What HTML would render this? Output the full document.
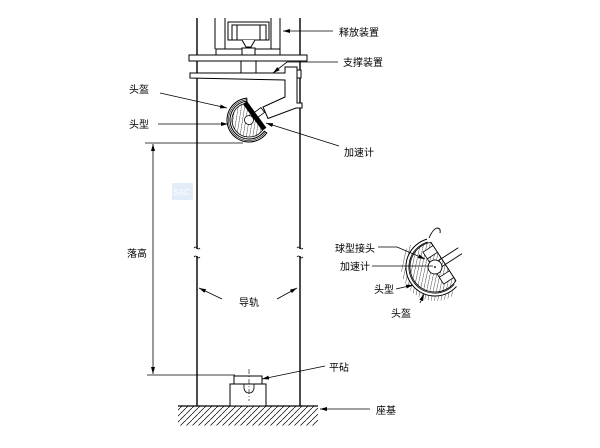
<!DOCTYPE html>
<html><head><meta charset="utf-8"><style>
html,body{margin:0;padding:0;background:#fff;}
svg{display:block;}
text{font-family:"Liberation Sans","Noto Sans CJK SC",sans-serif;font-size:10px;fill:#000;}
</style></head><body>
<svg width="600" height="448" viewBox="0 0 600 448" xmlns="http://www.w3.org/2000/svg">
<defs>
<marker id="ar" markerUnits="userSpaceOnUse" markerWidth="8" markerHeight="6" refX="7" refY="3" orient="auto">
<path d="M0,1 L7,3 L0,5 Z" fill="#000"/></marker>
<pattern id="h1" patternUnits="userSpaceOnUse" width="6" height="6"><path d="M-1,7 L7,-1" stroke="#000" stroke-width="0.7"/></pattern>
<pattern id="h2" patternUnits="userSpaceOnUse" width="4.5" height="4.5"><path d="M-1,5.5 L5.5,-1" stroke="#000" stroke-width="0.5"/></pattern>
</defs>

<!-- watermark -->
<rect x="172" y="183" width="21" height="17" fill="#e3edf7"/>
<text x="173" y="195" style="font-size:8px;font-style:italic;fill:#fff">SAC</text>

<g stroke="#000" fill="none">
<!-- rails -->
<line x1="197" y1="18" x2="197" y2="249" stroke-width="1.4"/>
<line x1="197" y1="256" x2="197" y2="406" stroke-width="1.4"/>
<line x1="300" y1="18" x2="300" y2="249" stroke-width="1.4"/>
<line x1="300" y1="256" x2="300" y2="406" stroke-width="1.4"/>
<path d="M194 248 q1.5 -2 3 0 t3 0 M194 257 q1.5 -2 3 0 t3 0 M297 248 q1.5 -2 3 0 t3 0 M297 257 q1.5 -2 3 0 t3 0" stroke-width="0.8"/>

<!-- upper frame -->
<line x1="215" y1="18" x2="215" y2="49"/>
<line x1="225" y1="18" x2="225" y2="49"/>
<line x1="271" y1="18" x2="271" y2="49"/>
<line x1="280" y1="18" x2="280" y2="49"/>
<rect x="216" y="49" width="64" height="6" fill="#fff"/>
<!-- release device -->
<rect x="228" y="22" width="41" height="18" fill="#fff"/>
<rect x="232" y="25" width="34" height="15"/>
<line x1="237" y1="25" x2="237" y2="40"/>
<line x1="260" y1="25" x2="260" y2="40"/>
<path d="M242 40 L246 47 L251 47 L255 40" fill="#fff"/>
<rect x="242" y="48" width="13" height="7" fill="#fff"/>
<!-- support plate -->
<rect x="189" y="55" width="118" height="6" fill="#fff"/>
<line x1="241" y1="61" x2="241" y2="73"/>
<line x1="256" y1="61" x2="256" y2="73"/>
<!-- bracket arm -->
<path d="M190 73 L285 73 L285 67 L297 67 L297 103 L302 103 L302 108 L296 108 L268 118.5 L263 107 L285 97 L285 80 L190 78 Z" fill="#fff"/>
<rect x="297" y="70" width="4" height="8" fill="#fff"/>
</g>

<!-- main head -->
<g transform="translate(249,120) rotate(-36)" stroke="#000">
<path d="M11 -19.05 A22 22 0 1 0 6.80 20.92 L5.87 18.07 A19 19 0 1 1 9.5 -16.45 Z" fill="#fff" stroke-width="1"/>
<path d="M10.2 -17.7 A20.5 20.5 0 1 0 6.3 19.5" fill="none" stroke-width="0.6"/>
<path d="M5 -16.25 A17 17 0 1 0 5 16.25 Z" fill="url(#h2)" stroke-width="0.8"/>
<rect x="5" y="-16" width="4" height="32" fill="#000"/>
<circle cx="0" cy="0" r="4.5" fill="#fff" stroke-width="0.8"/>
<rect x="9" y="-3" width="8" height="6" fill="#fff" stroke-width="0.8"/>
</g>

<g stroke="#000" fill="none" stroke-width="0.8">
<!-- leaders main -->
<line x1="333" y1="31" x2="283" y2="31" marker-end="url(#ar)"/>
<polyline points="338,62 287,62 273,73" marker-end="url(#ar)"/>
<line x1="160" y1="93" x2="227" y2="108" marker-end="url(#ar)"/>
<line x1="158" y1="124" x2="228" y2="124" marker-end="url(#ar)"/>
<line x1="339" y1="146" x2="266" y2="123" marker-end="url(#ar)"/>
<!-- dimension -->
<line x1="145" y1="143" x2="243" y2="143"/>
<line x1="147" y1="375" x2="235" y2="375"/>
<line x1="153" y1="260" x2="153" y2="144" marker-end="url(#ar)"/>
<line x1="153" y1="260" x2="153" y2="374" marker-end="url(#ar)"/>
<!-- guide rail arrows -->
<line x1="222" y1="299" x2="199" y2="288" marker-end="url(#ar)"/>
<line x1="277" y1="299" x2="297" y2="288" marker-end="url(#ar)"/>
<!-- anvil leaders -->
<line x1="325" y1="366" x2="262" y2="379" marker-end="url(#ar)"/>
<line x1="370" y1="409" x2="320" y2="409" marker-end="url(#ar)"/>
</g>

<!-- ground & anvil -->
<rect x="178" y="406.5" width="140" height="19" fill="url(#h1)"/>
<g stroke="#000" fill="none">
<line x1="178" y1="406" x2="318" y2="406" stroke-width="1.2"/>
<rect x="230" y="384" width="36" height="22" fill="#fff"/>
<rect x="234" y="376" width="28" height="8" fill="#fff"/>
<path d="M244 384 L244 388 A5 5 0 0 0 254 388 L254 384" stroke-width="0.8"/>
<line x1="249" y1="369" x2="249" y2="401" stroke-width="0.6" stroke-dasharray="5,2,1,2"/>
</g>

<!-- detail view -->
<g transform="translate(435,267) rotate(-33)" stroke="#000">
<path d="M-8.8 -32.84 A34 34 0 0 0 1.78 33.95 L1.54 29.46 A29.5 29.5 0 0 1 -7.64 -28.5 Z" fill="url(#h2)" stroke="none"/>
<path d="M8.5 -27.7 A29 29 0 1 0 7.5 28" fill="#fff" stroke-width="1"/>
<path d="M7.6 -24.8 A26 26 0 1 0 6.7 25.1" fill="none" stroke-width="0.8"/>
<path d="M10 -22.9 A25 25 0 1 0 10 22.9 Z" fill="url(#h2)" stroke-width="0.8"/>
<path d="M10 -22.9 L10 22.9" stroke-width="1"/>
<rect x="-2" y="-19" width="12" height="38" fill="#fff" stroke-width="0.8"/>
<rect x="-2" y="-11" width="12" height="22" fill="url(#h2)" stroke="none"/>
<line x1="-2" y1="-11" x2="10" y2="-11" stroke-width="0.8"/>
<line x1="-2" y1="11" x2="10" y2="11" stroke-width="0.8"/>
<circle cx="0" cy="0" r="7" fill="#fff" stroke-width="0.9"/>
<circle cx="0" cy="0" r="0.9" fill="#000" stroke="none"/>
<line x1="6" y1="-3.5" x2="30" y2="-3.5" stroke-width="0.9"/>
<line x1="6" y1="3.5" x2="30" y2="3.5" stroke-width="0.9"/>
</g>
<path d="M429 238 Q433 229 437 228 Q441 228 440 233" fill="none" stroke="#000" stroke-width="0.9"/>

<g stroke="#000" fill="none" stroke-width="0.8">
<polyline points="378,247 397,247 425,259" marker-end="url(#ar)"/>
<line x1="372" y1="266" x2="433" y2="266"/>
<line x1="396" y1="289" x2="413" y2="285" marker-end="url(#ar)"/>
<line x1="420" y1="303" x2="424" y2="294" marker-end="url(#ar)"/>
</g>

<!-- labels -->
<text x="339" y="36">释放装置</text>
<text x="343" y="66">支撑装置</text>
<text x="129" y="93">头盔</text>
<text x="129" y="128">头型</text>
<text x="344" y="156">加速计</text>
<text x="127" y="257">落高</text>
<text x="239" y="306">导轨</text>
<text x="329" y="371">平砧</text>
<text x="376" y="414">座基</text>
<text x="335" y="252">球型接头</text>
<text x="340" y="270">加速计</text>
<text x="374" y="293">头型</text>
<text x="391" y="317">头盔</text>
</svg>
</body></html>
